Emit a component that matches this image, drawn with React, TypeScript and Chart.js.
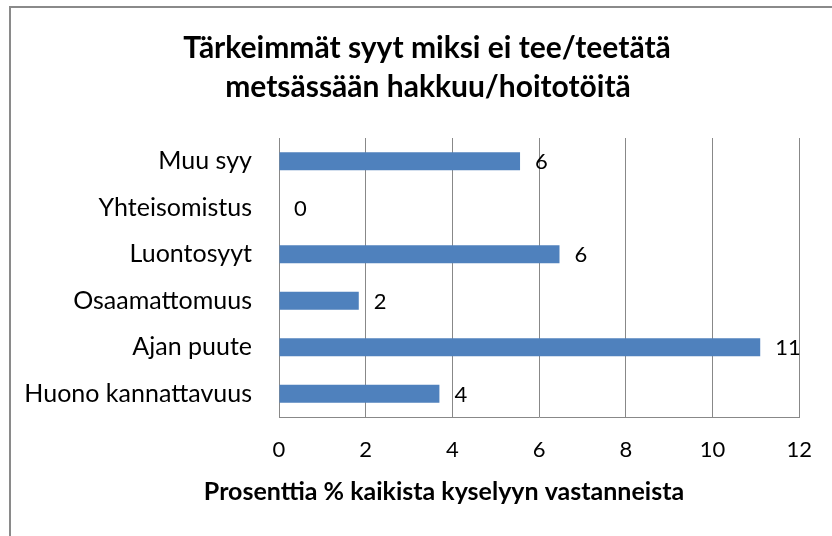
import React, { useEffect, useRef } from "react";
import { Chart, registerables } from "chart.js";

Chart.register(...registerables);

const titleLines = ["Tärkeimmät syyt miksi ei tee/teetätä", "metsässään hakkuu/hoitotöitä"];
const categories = [
  "Muu syy",
  "Yhteisomistus",
  "Luontosyyt",
  "Osaamattomuus",
  "Ajan puute",
  "Huono kannattavuus",
];
const values = [5.56, 0, 6.47, 1.84, 11.1, 3.7];
const axisTitle = "Prosenttia % kaikista kyselyyn vastanneista";
const xMin = 0;
const xMax = 12;
const xStep = 2;

const FONT = "Lato, 'Open Sans', sans-serif";
const GRID = "#888888";
const BAR = "#4F81BD";

const framePlugin = {
  id: "frame",
  beforeDraw(chart: any) {
    const ctx = chart.ctx;
    ctx.save();
    ctx.fillStyle = "#ffffff";
    ctx.fillRect(0, 0, chart.width, chart.height);
    ctx.fillStyle = "#8a8a8a";
    ctx.fillRect(9, 6, 2, chart.height - 6);
    ctx.fillRect(9, 6, chart.width - 9, 2);
    ctx.restore();
  },
};

const valueLabelPlugin = {
  id: "valueLabels",
  afterDatasetsDraw(chart: any) {
    const ctx = chart.ctx;
    const meta = chart.getDatasetMeta(0);
    const data = chart.data.datasets[0].data as number[];
    ctx.save();
    ctx.font = `22px ${FONT}`;
    ctx.fillStyle = "#000000";
    ctx.textAlign = "left";
    ctx.textBaseline = "middle";
    meta.data.forEach((bar: any, i: number) => {
      ctx.fillText(String(Math.round(data[i])), bar.x + 15, bar.y + 1);
    });
    ctx.restore();
  },
};

const textPlugin = {
  id: "chartTexts",
  afterDraw(chart: any) {
    const ctx = chart.ctx;
    ctx.save();
    ctx.fillStyle = "#000000";
    ctx.textAlign = "center";
    ctx.textBaseline = "alphabetic";
    ctx.font = `bold 30px ${FONT}`;
    ctx.fillText(titleLines[0], 427, 57.5);
    ctx.fillText(titleLines[1], 428, 97);
    ctx.font = `bold 25px ${FONT}`;
    ctx.fillText(axisTitle, 444, 499.5);
    ctx.restore();
  },
};

export default function App() {
  const ref = useRef<HTMLCanvasElement | null>(null);
  useEffect(() => {
    if (!ref.current) return;
    const chart = new Chart(ref.current, {
      type: "bar",
      data: {
        labels: categories,
        datasets: [
          {
            data: values,
            backgroundColor: BAR,
            borderWidth: 0,
            categoryPercentage: 1,
            barPercentage: 0.39,
          },
        ],
      },
      options: {
        indexAxis: "y",
        animation: false,
        responsive: false,
        maintainAspectRatio: false,
        layout: { padding: { left: 12, right: 31, top: 138, bottom: 0 } },
        plugins: {
          legend: { display: false },
          tooltip: { enabled: false },
          title: { display: false },
        },
        scales: {
          x: {
            min: xMin,
            max: xMax,
            ticks: {
              stepSize: xStep,
              color: "#000000",
              padding: 20,
              font: { family: FONT, size: 22 },
            },
            grid: { color: GRID, lineWidth: 1, drawTicks: false },
            border: { display: true, color: GRID, width: 1 },
            afterFit(scale: any) {
              scale.height = 119;
            },
          },
          y: {
            ticks: {
              color: "#000000",
              padding: 27,
              font: { family: FONT, size: 25 },
            },
            grid: { display: false, drawTicks: false },
            border: { display: true, color: GRID, width: 1 },
            afterFit(scale: any) {
              scale.width = 279 - 12;
            },
          },
        },
      },
      plugins: [framePlugin, valueLabelPlugin, textPlugin],
    });
    return () => chart.destroy();
  }, []);
  return (
    <div style={{ position: "fixed", left: 0, top: 0, width: 832, height: 536 }}>
      <canvas ref={ref} width={832} height={536} style={{ width: 832, height: 536 }} />
    </div>
  );
}
